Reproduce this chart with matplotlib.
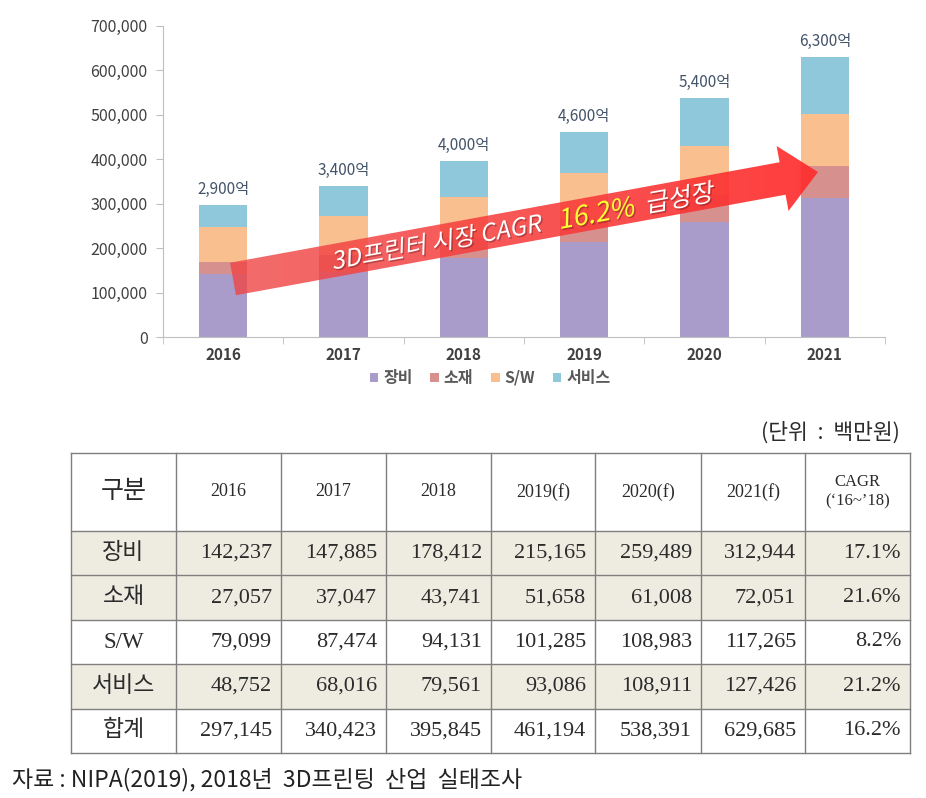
import numpy as np
import matplotlib
matplotlib.use('Agg')
import matplotlib.pyplot as plt
from matplotlib.patches import Polygon, Rectangle, PathPatch
from matplotlib.textpath import TextPath
from matplotlib.font_manager import FontProperties
from matplotlib.transforms import Affine2D
from matplotlib.ticker import FuncFormatter

plt.rcParams['font.family'] = ['Noto Sans CJK KR', 'DejaVu Sans']

# ---- data ----
years = ['2016', '2017', '2018', '2019', '2020', '2021']
categories = ['장비', '소재', 'S/W', '서비스']
equipment = [142237, 147885, 178412, 215165, 259489, 312944]
material = [27057, 37047, 43741, 51658, 61008, 72051]
software = [79099, 87474, 94131, 101285, 108983, 117265]
service = [48752, 68016, 79561, 93086, 108911, 127426]
totals = [297145, 340423, 395845, 461194, 538391, 629685]
total_labels = ['2,900억', '3,400억', '4,000억', '4,600억', '5,400억', '6,300억']
cagr = ['17.1%', '21.6%', '8.2%', '21.2%', '16.2%']
table_head = ['구분', '2016', '2017', '2018', '2019(f)', '2020(f)', '2021(f)', 'CAGR\n(‘16~’18)']
row_names = categories + ['합계']

colors = ['#AA9CCA', '#D6918F', '#F9BF8F', '#8FC8DA']

fig = plt.figure(figsize=(9.26, 7.98), dpi=100)
W, H = 926, 798

# ---- stacked bar chart ----
ax = fig.add_axes([163 / W, 1 - 337.4 / H, (885 - 163) / W, (337.4 - 25.7) / H])
x = np.arange(len(years))
bottom = np.zeros(len(years))
for vals, name, c in zip([equipment, material, software, service], categories, colors):
    ax.bar(x, vals, 0.4, bottom=bottom, color=c, label=name)
    bottom += np.array(vals)

for xi, tot, lab in zip(x, bottom, total_labels):
    ax.annotate(lab, (xi, tot), xytext=(0, 5), textcoords='offset points',
                ha='center', va='bottom', fontsize=11, color='#44546A')

ax.set_xlim(-0.5, 5.5)
ax.set_ylim(0, 700000)
ax.set_yticks(range(0, 700001, 100000))
ax.yaxis.set_major_formatter(FuncFormatter(lambda v, p: f'{int(v):,}'))
ax.set_xticks(x)
ax.set_xticklabels(years, fontsize=11, fontweight='bold', color='#404040')
ax.set_xticks(np.arange(-0.5, 6, 1), minor=True)
ax.tick_params(axis='x', which='major', length=0, pad=7)
ax.tick_params(axis='x', which='minor', length=5, color='#BFBFBF')
ax.tick_params(axis='y', length=5, color='#BFBFBF', labelsize=11.5, labelcolor='#404040', pad=6)
for s in ['top', 'right']:
    ax.spines[s].set_visible(False)
for s in ['left', 'bottom']:
    ax.spines[s].set_color('#BFBFBF')

ax.legend(loc='center', bbox_to_anchor=(490 / W, 1 - 378 / H), bbox_transform=fig.transFigure,
          ncol=4, frameon=False, handlelength=0.55, handleheight=0.55, handletextpad=0.3,
          columnspacing=1.1, prop={'size': 11.5, 'weight': 'bold'}, labelcolor='#595959')

# ---- overlay in pixel coordinates ----
ov = fig.add_axes([0, 0, 1, 1], zorder=5)
ov.set_xlim(0, W)
ov.set_ylim(H, 0)
ov.axis('off')

# arrow
L = np.array([233.0, 279.0])
T = np.array([818.0, 172.0])
u = (T - L) / np.linalg.norm(T - L)
n = np.array([-u[1], u[0]])
ang = np.degrees(np.arctan2(-u[1], u[0]))
B = T - 36 * u
pts = [L - 16.5 * n, B - 16.5 * n, B - 33 * n, T, B + 33 * n, B + 16.5 * n, L + 16.5 * n]
arrow = Polygon(pts, closed=True, facecolor='none', edgecolor='none')
ov.add_patch(arrow)
grad = np.zeros((1, 256, 4))
t = np.linspace(0, 1, 256)
grad[0, :, 0] = 0.94 + 0.06 * t
grad[0, :, 1] = 0.28 - 0.10 * t
grad[0, :, 2] = 0.28 - 0.10 * t
grad[0, :, 3] = 0.80 + 0.13 * t
im = ov.imshow(grad, extent=(225, 822, 300, 140), aspect='auto', zorder=6)
im.set_clip_path(arrow)
ov.set_xlim(0, W)
ov.set_ylim(H, 0)

cjk = FontProperties(family='Noto Sans CJK KR')


def arrow_text(s, dist, size, color):
    tp = TextPath((0, 0), s, size=size, prop=cjk)
    ext = tp.get_extents()
    cx = (ext.x0 + ext.x1) / 2
    cy = 0.36 * size
    P = L + dist * u
    for off, col, a in [((1.5, 1.5), 'black', 0.25), ((0, 0), color, 1.0)]:
        tr = (Affine2D().translate(-cx, -cy).skew_deg(12, 0).rotate_deg(ang)
              .scale(1, -1).translate(P[0] + off[0], P[1] + off[1]))
        ov.add_patch(PathPatch(tr.transform_path(tp), facecolor=col, edgecolor='none',
                               alpha=a, zorder=7))


arrow_text('3D프린터 시장 CAGR', 208, 24, 'white')
arrow_text('16.2%', 371, 27, '#FFFF33')
arrow_text('급성장', 455, 25, 'white')

# ---- table ----
col_edges = [71, 176, 281, 386, 491, 595, 701, 805, 910]
row_edges = [453, 531, 575.4, 619.8, 664.2, 708.6, 753]
shaded = {'장비', '소재', '서비스'}
tfont = ['Liberation Serif', 'Noto Sans CJK KR']
tcol = '#2b2b2b'

ov.text(900, 433, '(단위  :  백만원)', ha='right', va='center', fontsize=15.5, color=tcol)

for i, name in enumerate(row_names):
    if name in shaded:
        ov.add_patch(Rectangle((col_edges[0], row_edges[i + 1]), col_edges[-1] - col_edges[0],
                               row_edges[i + 2] - row_edges[i + 1], facecolor='#EEECE1',
                               edgecolor='none', zorder=2))
for xe in col_edges:
    ov.plot([xe, xe], [row_edges[0], row_edges[-1]], color='#7F7F7F', lw=1, zorder=3)
for ye in row_edges:
    ov.plot([col_edges[0], col_edges[-1]], [ye, ye], color='#7F7F7F', lw=1, zorder=3)

hy = (row_edges[0] + row_edges[1]) / 2
for j, h in enumerate(table_head):
    cx = (col_edges[j] + col_edges[j + 1]) / 2
    if j == 0:
        ov.text(cx, hy, h, ha='center', va='center', fontsize=18, color=tcol, family=tfont)
    else:
        ov.text(cx, hy, h, ha='center', va='center', fontsize=13 if j < 7 else 12,
                color=tcol, family=tfont, linespacing=1.3)

row_vals = [equipment, material, software, service, totals]
for i, name in enumerate(row_names):
    ry = (row_edges[i + 1] + row_edges[i + 2]) / 2
    ov.text((col_edges[0] + col_edges[1]) / 2, ry, name, ha='center', va='center',
            fontsize=16.5, color=tcol, family=tfont)
    for j, v in enumerate(row_vals[i]):
        ov.text(col_edges[j + 2] - 9, ry, f'{v:,}', ha='right', va='center',
                fontsize=16, color=tcol, family=tfont)
    ov.text(col_edges[-1] - 9, ry, cagr[i], ha='right', va='center',
            fontsize=16, color=tcol, family=tfont)

ov.text(12, 780, '자료 : NIPA(2019), 2018년  3D프린팅  산업  실태조사', ha='left', va='center',
        fontsize=16.5, color='#222222')

fig.savefig('out.png', dpi=100)
